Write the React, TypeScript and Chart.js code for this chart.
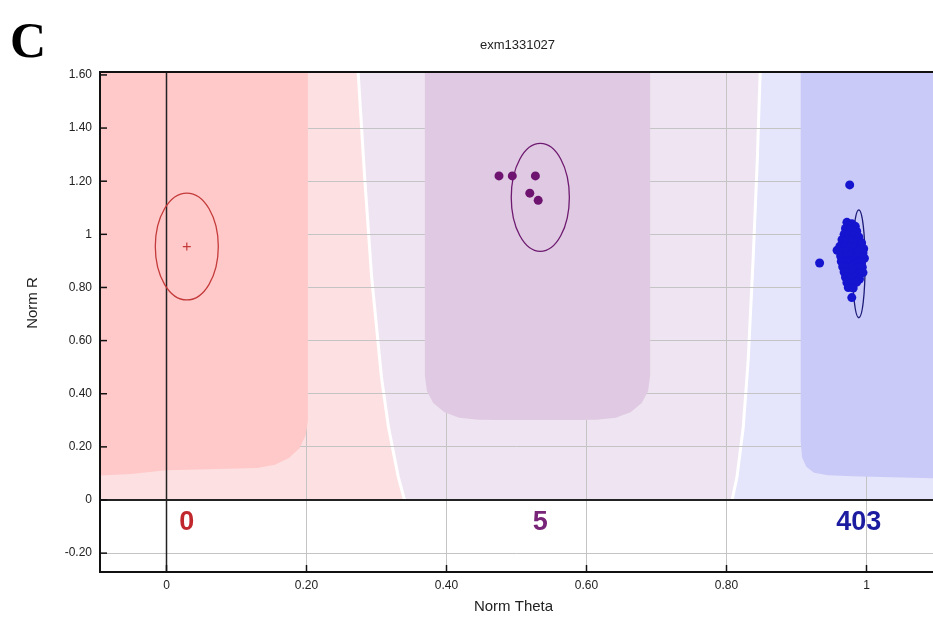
import React, { useEffect, useRef } from "react";
import { Chart, registerables } from "chart.js";

Chart.register(...registerables);

// ---------- axis ticks ----------
const X_TICKS = [0, 0.2, 0.4, 0.6, 0.8, 1];
const X_TICK_LABELS = ["0", "0.20", "0.40", "0.60", "0.80", "1"];
const Y_TICKS = [-0.2, 0, 0.2, 0.4, 0.6, 0.8, 1, 1.2, 1.4, 1.6];
const Y_TICK_LABELS = ["-0.20", "0", "0.20", "0.40", "0.60", "0.80", "1", "1.20", "1.40", "1.60"];

// ---------- clusters ----------
const CLUSTER_COUNTS = ["0", "5", "403"];
const CLUSTER_CX = [0.029, 0.534, 0.989];
const CLUSTER_CY = [0.954, 1.139, 0.889];
const CLUSTER_RX = [0.045, 0.0415, 0.009];
const CLUSTER_RY = [0.201, 0.203, 0.203];

const RED_CENTER = [{ x: 0.029, y: 0.954 }];

const PURPLE_POINTS = [
  { x: 0.475, y: 1.22 },
  { x: 0.494, y: 1.22 },
  { x: 0.527, y: 1.22 },
  { x: 0.519, y: 1.155 },
  { x: 0.531, y: 1.128 },
];

const BLUE_POINTS = [
  { x: 0.976, y: 1.186 }, { x: 0.933, y: 0.892 }, { x: 0.979, y: 0.762 },
  { x: 0.972, y: 1.045 }, { x: 0.979, y: 1.04 }, { x: 0.984, y: 1.03 },
  { x: 0.97, y: 1.022 }, { x: 0.977, y: 1.018 }, { x: 0.986, y: 1.012 },
  { x: 0.968, y: 1.0 }, { x: 0.975, y: 0.998 }, { x: 0.982, y: 0.995 }, { x: 0.989, y: 0.99 },
  { x: 0.965, y: 0.98 }, { x: 0.972, y: 0.975 }, { x: 0.98, y: 0.978 }, { x: 0.987, y: 0.972 }, { x: 0.993, y: 0.968 },
  { x: 0.962, y: 0.955 }, { x: 0.969, y: 0.958 }, { x: 0.976, y: 0.952 }, { x: 0.984, y: 0.955 }, { x: 0.991, y: 0.95 }, { x: 0.996, y: 0.946 },
  { x: 0.958, y: 0.94 }, { x: 0.966, y: 0.935 }, { x: 0.973, y: 0.938 }, { x: 0.981, y: 0.932 }, { x: 0.988, y: 0.936 }, { x: 0.995, y: 0.93 },
  { x: 0.963, y: 0.918 }, { x: 0.97, y: 0.915 }, { x: 0.978, y: 0.92 }, { x: 0.985, y: 0.912 }, { x: 0.992, y: 0.917 }, { x: 0.997, y: 0.91 },
  { x: 0.964, y: 0.898 }, { x: 0.971, y: 0.895 }, { x: 0.979, y: 0.9 }, { x: 0.986, y: 0.892 }, { x: 0.993, y: 0.897 },
  { x: 0.966, y: 0.878 }, { x: 0.973, y: 0.875 }, { x: 0.98, y: 0.88 }, { x: 0.987, y: 0.872 }, { x: 0.994, y: 0.876 },
  { x: 0.968, y: 0.858 }, { x: 0.975, y: 0.855 }, { x: 0.982, y: 0.86 }, { x: 0.989, y: 0.852 }, { x: 0.995, y: 0.856 },
  { x: 0.97, y: 0.838 }, { x: 0.977, y: 0.835 }, { x: 0.984, y: 0.84 }, { x: 0.99, y: 0.832 },
  { x: 0.972, y: 0.818 }, { x: 0.979, y: 0.815 }, { x: 0.986, y: 0.82 },
  { x: 0.974, y: 0.8 }, { x: 0.981, y: 0.798 },
];

// ---------- classification regions (data coordinates) ----------
const BOUNDARY_AA_AB: number[][] = [
  [0.273, 1.65], [0.274, 1.6], [0.283, 1.217], [0.293, 0.841], [0.307, 0.464],
  [0.317, 0.276], [0.331, 0.088], [0.34, 0],
];
const BOUNDARY_AB_BB: number[][] = [
  [0.849, 1.65], [0.848, 1.6], [0.844, 1.28], [0.838, 0.904], [0.831, 0.527],
  [0.824, 0.275], [0.815, 0.087], [0.808, 0],
];
const CORE_AA: number[][] = [
  [-0.15, 1.65], [0.202, 1.65], [0.202, 0.3], [0.199, 0.245], [0.19, 0.195],
  [0.175, 0.158], [0.155, 0.133], [0.13, 0.12], [0.06, 0.116], [0.0, 0.112],
  [-0.05, 0.098], [-0.15, 0.086],
];
const CORE_AB: number[][] = [
  [0.369, 1.65], [0.369, 0.47], [0.372, 0.41], [0.381, 0.365], [0.397, 0.33],
  [0.418, 0.31], [0.445, 0.302], [0.47, 0.301], [0.59, 0.301], [0.615, 0.302],
  [0.642, 0.31], [0.663, 0.33], [0.679, 0.365], [0.688, 0.41], [0.691, 0.47], [0.691, 1.65],
];
const CORE_BB: number[][] = [
  [0.906, 1.65], [0.906, 0.22], [0.908, 0.16], [0.914, 0.125], [0.925, 0.103],
  [0.945, 0.093], [0.98, 0.089], [1.05, 0.085], [1.2, 0.075], [1.2, 1.65],
];

const LIGHT_COLORS = ["#fde1e2", "#efe5f2", "#e5e5fb"];
const CORE_COLORS = ["#ffc9c9", "#e0cae3", "#cacaf8"];
const ELLIPSE_COLORS = ["#c43a3a", "#6e1a70", "#1c1c78"];
const COUNT_COLORS = ["#c0282e", "#782478", "#1c1ca0"];

const FONT = "'Liberation Sans', Arial, sans-serif";

const genoPlugin = {
  id: "genoPlugin",
  beforeDraw(chart: any) {
    const { ctx, chartArea: a, scales } = chart;
    const xs = scales.x, ys = scales.y;
    const P = (p: number[]) => [xs.getPixelForValue(p[0]), ys.getPixelForValue(p[1])];
    ctx.save();
    ctx.fillStyle = "#ffffff";
    ctx.fillRect(0, 0, chart.width, chart.height);
    ctx.beginPath();
    ctx.rect(a.left, a.top, a.right - a.left, a.bottom - a.top);
    ctx.clip();
    const fillPoly = (pts: number[][], color: string) => {
      ctx.beginPath();
      pts.forEach((p, i) => {
        const [px, py] = P(p);
        if (i === 0) ctx.moveTo(px, py); else ctx.lineTo(px, py);
      });
      ctx.closePath();
      ctx.fillStyle = color;
      ctx.fill();
    };
    const top = 1.65, x0 = -0.2, x1 = 1.2;
    fillPoly([[x0, top], ...BOUNDARY_AA_AB, [x0, 0]], LIGHT_COLORS[0]);
    fillPoly([...BOUNDARY_AA_AB, ...BOUNDARY_AB_BB.slice().reverse()], LIGHT_COLORS[1]);
    fillPoly([...BOUNDARY_AB_BB, [x1, 0], [x1, top]], LIGHT_COLORS[2]);
    [BOUNDARY_AA_AB, BOUNDARY_AB_BB].forEach((b) => {
      ctx.beginPath();
      b.forEach((p, i) => {
        const [px, py] = P(p);
        if (i === 0) ctx.moveTo(px, py); else ctx.lineTo(px, py);
      });
      ctx.strokeStyle = "#ffffff";
      ctx.lineWidth = 3;
      ctx.stroke();
    });
    ctx.restore();
  },
  beforeDatasetsDraw(chart: any) {
    const { ctx, chartArea: a, scales } = chart;
    const xs = scales.x, ys = scales.y;
    const P = (p: number[]) => [xs.getPixelForValue(p[0]), ys.getPixelForValue(p[1])];
    ctx.save();
    ctx.beginPath();
    ctx.rect(a.left, a.top, a.right - a.left, a.bottom - a.top);
    ctx.clip();
    [CORE_AA, CORE_AB, CORE_BB].forEach((poly, k) => {
      ctx.beginPath();
      poly.forEach((p, i) => {
        const [px, py] = P(p);
        if (i === 0) ctx.moveTo(px, py); else ctx.lineTo(px, py);
      });
      ctx.closePath();
      ctx.fillStyle = CORE_COLORS[k];
      ctx.fill();
    });
    // zero lines
    const zx = xs.getPixelForValue(0);
    const zy = ys.getPixelForValue(0);
    ctx.strokeStyle = "#222222";
    ctx.lineWidth = 1.5;
    ctx.beginPath();
    ctx.moveTo(zx, a.top);
    ctx.lineTo(zx, a.bottom);
    ctx.stroke();
    ctx.lineWidth = 2;
    ctx.beginPath();
    ctx.moveTo(a.left, zy);
    ctx.lineTo(a.right, zy);
    ctx.stroke();
    // ellipses
    CLUSTER_CX.forEach((cx, i) => {
      const px = xs.getPixelForValue(cx);
      const py = ys.getPixelForValue(CLUSTER_CY[i]);
      const rx = Math.abs(xs.getPixelForValue(cx + CLUSTER_RX[i]) - px);
      const ry = Math.abs(ys.getPixelForValue(CLUSTER_CY[i] + CLUSTER_RY[i]) - py);
      ctx.beginPath();
      ctx.ellipse(px, py, rx, ry, 0, 0, Math.PI * 2);
      ctx.strokeStyle = ELLIPSE_COLORS[i];
      ctx.lineWidth = 1.3;
      ctx.stroke();
    });
    ctx.restore();

    // frame + inner ticks
    ctx.save();
    ctx.strokeStyle = "#111111";
    ctx.lineWidth = 2;
    ctx.beginPath();
    ctx.moveTo(a.right + 2, a.top);
    ctx.lineTo(a.left, a.top);
    ctx.lineTo(a.left, a.bottom);
    ctx.lineTo(a.right + 2, a.bottom);
    ctx.stroke();
    ctx.lineWidth = 1.5;
    Y_TICKS.forEach((v) => {
      const py = ys.getPixelForValue(v);
      ctx.beginPath();
      ctx.moveTo(a.left, py);
      ctx.lineTo(a.left + 7, py);
      ctx.stroke();
    });
    X_TICKS.forEach((v) => {
      const px = xs.getPixelForValue(v);
      ctx.beginPath();
      ctx.moveTo(px, a.bottom);
      ctx.lineTo(px, a.bottom - 7);
      ctx.stroke();
    });
    ctx.restore();
  },
  afterDraw(chart: any) {
    const { ctx, chartArea: a, scales } = chart;
    const xs = scales.x, ys = scales.y;
    ctx.save();
    // counts
    ctx.textAlign = "center";
    ctx.textBaseline = "middle";
    ctx.font = `bold 27px ${FONT}`;
    CLUSTER_COUNTS.forEach((c, i) => {
      ctx.fillStyle = COUNT_COLORS[i];
      ctx.fillText(c, xs.getPixelForValue(CLUSTER_CX[i]), ys.getPixelForValue(-0.085));
    });
    // title
    ctx.fillStyle = "#222222";
    ctx.font = `13px ${FONT}`;
    ctx.fillText("exm1331027", (a.left + a.right) / 2 + 1, 45);
    // axis titles
    ctx.font = `15px ${FONT}`;
    ctx.fillText("Norm Theta", (a.left + a.right) / 2 - 3, 607);
    ctx.save();
    ctx.translate(33, 303);
    ctx.rotate(-Math.PI / 2);
    ctx.fillText("Norm R", 0, 0);
    ctx.restore();
    // panel letter
    ctx.textAlign = "left";
    ctx.textBaseline = "alphabetic";
    ctx.fillStyle = "#000000";
    ctx.font = "bold 50px 'Liberation Serif', 'Times New Roman', serif";
    ctx.fillText("C", 10, 57);
    ctx.restore();
  },
};

export default function App() {
  const ref = useRef<HTMLCanvasElement | null>(null);
  useEffect(() => {
    if (!ref.current) return;
    const chart = new Chart(ref.current, {
      type: "scatter",
      data: {
        datasets: [
          {
            data: RED_CENTER,
            pointStyle: "cross",
            pointRadius: 4,
            borderColor: "#c43a3a",
            backgroundColor: "#c43a3a",
            borderWidth: 1.2,
          },
          {
            data: PURPLE_POINTS,
            pointRadius: 4.5,
            backgroundColor: "#6e1470",
            borderColor: "#6e1470",
            borderWidth: 0,
          },
          {
            data: BLUE_POINTS,
            pointRadius: 4.5,
            backgroundColor: "#1515d0",
            borderColor: "#1515d0",
            borderWidth: 0,
          },
        ],
      } as any,
      options: {
        animation: false,
        responsive: false,
        layout: { autoPadding: false, padding: { top: 72, left: 0, right: 0, bottom: 0 } },
        plugins: { legend: { display: false }, tooltip: { enabled: false }, title: { display: false } },
        scales: {
          x: {
            type: "linear",
            min: -0.095,
            max: 1.095,
            afterBuildTicks: (s: any) => {
              s.ticks = X_TICKS.map((v) => ({ value: v }));
            },
            afterFit: (s: any) => {
              s.height = 47;
            },
            ticks: {
              callback: (_v: any, i: number) => X_TICK_LABELS[i],
              font: { family: FONT, size: 12 },
              color: "#222222",
              padding: 6,
              maxRotation: 0,
              autoSkip: false,
            },
            grid: {
              drawTicks: false,
              color: (c: any) => (c.tick && c.tick.value === 0 ? "rgba(0,0,0,0)" : "#c4c4c4"),
              lineWidth: 1,
            },
            border: { display: false },
          },
          y: {
            type: "linear",
            min: -0.271,
            max: 1.611,
            afterBuildTicks: (s: any) => {
              s.ticks = Y_TICKS.map((v) => ({ value: v }));
            },
            afterFit: (s: any) => {
              s.width = 100;
            },
            ticks: {
              callback: (_v: any, i: number) => Y_TICK_LABELS[i],
              font: { family: FONT, size: 12 },
              color: "#222222",
              padding: 8,
              autoSkip: false,
            },
            grid: {
              drawTicks: false,
              color: (c: any) =>
                c.tick && (c.tick.value === 0 || c.tick.value === 1.6) ? "rgba(0,0,0,0)" : "#c4c4c4",
              lineWidth: 1,
            },
            border: { display: false },
          },
        },
      } as any,
      plugins: [genoPlugin as any],
    });
    return () => chart.destroy();
  }, []);
  return (
    <div style={{ position: "fixed", left: 0, top: 0, width: 933, height: 619, background: "#fff", overflow: "hidden" }}>
      <canvas ref={ref} width={933} height={619} style={{ display: "block" }} />
    </div>
  );
}
